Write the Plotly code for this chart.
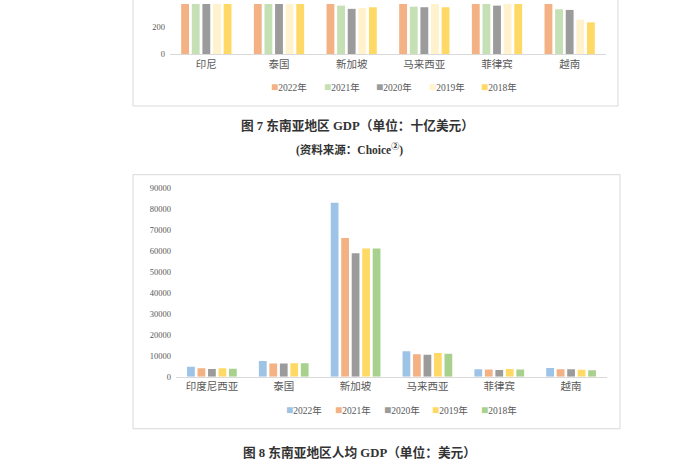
import plotly.graph_objects as go

# ---------- data ----------
years = ['2022年', '2021年', '2020年', '2019年', '2018年']

cats_top = ['印尼', '泰国', '新加坡', '马来西亚', '菲律宾', '越南']
gdp_2022 = [1319, 495, 467, 407, 404, 409]
gdp_2021 = [1186, 506, 359, 351, 394, 332]
gdp_2020 = [1059, 500, 335, 347, 359, 327]
gdp_2019 = [1119, 544, 342, 380, 377, 255]
gdp_2018 = [1042, 506, 347, 347, 380, 235]

cats_bot = ['印度尼西亚', '泰国', '新加坡', '马来西亚', '菲律宾', '越南']
pc_2022 = [4700, 7500, 82800, 12100, 3600, 4100]
pc_2021 = [4000, 6250, 66000, 10700, 3450, 3500]
pc_2020 = [3700, 6250, 58800, 10500, 3150, 3500]
pc_2019 = [4000, 6400, 61000, 11300, 3700, 3300]
pc_2018 = [3800, 6400, 61000, 10900, 3450, 3100]

top_colors = ['#F4B183', '#C5E0B4', '#9B9B9B', '#FFF2CC', '#FFD966']
bot_colors = ['#9DC3E6', '#F4B183', '#9B9B9B', '#FFD966', '#A9D18E']

W, H = 700, 470
def px(x): return x / W
def py(y): return 1 - y / H

SERIF = 'Liberation Serif, Noto Sans CJK SC'
TICK_COLOR = '#595959'

fig = go.Figure()

for name, vals, col in zip(years, [gdp_2022, gdp_2021, gdp_2020, gdp_2019, gdp_2018], top_colors):
    fig.add_trace(go.Bar(x=cats_top, y=vals, name=name, marker=dict(color=col, line=dict(width=0)),
                         xaxis='x', yaxis='y', showlegend=False))

for name, vals, col in zip(years, [pc_2022, pc_2021, pc_2020, pc_2019, pc_2018], bot_colors):
    fig.add_trace(go.Bar(x=cats_bot, y=vals, name=name, marker=dict(color=col, line=dict(width=0)),
                         xaxis='x2', yaxis='y2', showlegend=False))

axis_common = dict(showgrid=False, zeroline=False, ticks='', tickformat='d', ticklabelstandoff=4,
                   tickfont=dict(family=SERIF, size=8.5, color=TICK_COLOR))

annotations = [
    dict(text='<b>图 7 东南亚地区 GDP（单位：十亿美元）</b>', x=px(357), y=py(124), xref='paper', yref='paper',
         showarrow=False, xanchor='center', yanchor='middle', font=dict(family=SERIF, size=12.7, color='#333333')),
    dict(text='<b>(资料来源：Choice<sup>②</sup>)</b>', x=px(349), y=py(148), xref='paper', yref='paper',
         showarrow=False, xanchor='center', yanchor='middle', font=dict(family=SERIF, size=11.5, color='#333333')),
    dict(text='<b>图 8 东南亚地区人均 GDP（单位：美元）</b>', x=px(359), y=py(457), xref='paper', yref='paper',
         showarrow=False, xanchor='center', yanchor='middle', font=dict(family=SERIF, size=12.7, color='#333333')),
]

# legends (marker square + label), one row under each chart
def add_legend(colors, x_start, pitch, y):
    for i, (name, col) in enumerate(zip(years, colors)):
        annotations.append(dict(
            text=f'<span style="color:{col};font-size:12px">■</span>{name}', x=px(x_start + i * pitch), y=py(y),
            xref='paper', yref='paper', showarrow=False, xanchor='left', yanchor='middle',
            font=dict(family=SERIF, size=9.5, color=TICK_COLOR)))

add_legend(top_colors, 269, 52.5, 85)
add_legend(bot_colors, 284, 48.8, 414)

fig.update_layout(
    width=W, height=H,
    margin=dict(l=0, r=0, t=0, b=0),
    paper_bgcolor='white', plot_bgcolor='white',
    barmode='group', bargap=0.27, bargroupgap=0.26,
    showlegend=False,
    xaxis=dict(domain=[px(170), px(606)], anchor='y', showline=True, linecolor='#D9D9D9', linewidth=1,
               tickfont=dict(family=SERIF, size=10.5, color=TICK_COLOR), showgrid=False, ticks=''),
    yaxis=dict(domain=[py(51), 1.0], anchor='x', range=[0, 371], dtick=200, **axis_common),
    xaxis2=dict(domain=[px(176), px(607)], anchor='y2', showline=True, linecolor='#D9D9D9', linewidth=1,
                tickfont=dict(family=SERIF, size=10.5, color=TICK_COLOR), showgrid=False, ticks=''),
    yaxis2=dict(domain=[py(380), py(186.2)], anchor='x2', range=[0, 90500], dtick=10000, **axis_common),
    shapes=[
        dict(type='rect', xref='paper', yref='paper', x0=px(133), x1=px(618), y0=py(104), y1=1.05,
             line=dict(color='#D9D9D9', width=1), fillcolor='rgba(0,0,0,0)', layer='below'),
        dict(type='rect', xref='paper', yref='paper', x0=px(133), x1=px(620), y0=py(433), y1=py(174),
             line=dict(color='#D9D9D9', width=1), fillcolor='rgba(0,0,0,0)', layer='below'),
    ],
    annotations=annotations,
)

fig.write_html('out.html', config={'displayModeBar': False},
               post_script="document.body.style.margin='0';document.body.style.overflow='hidden';")
